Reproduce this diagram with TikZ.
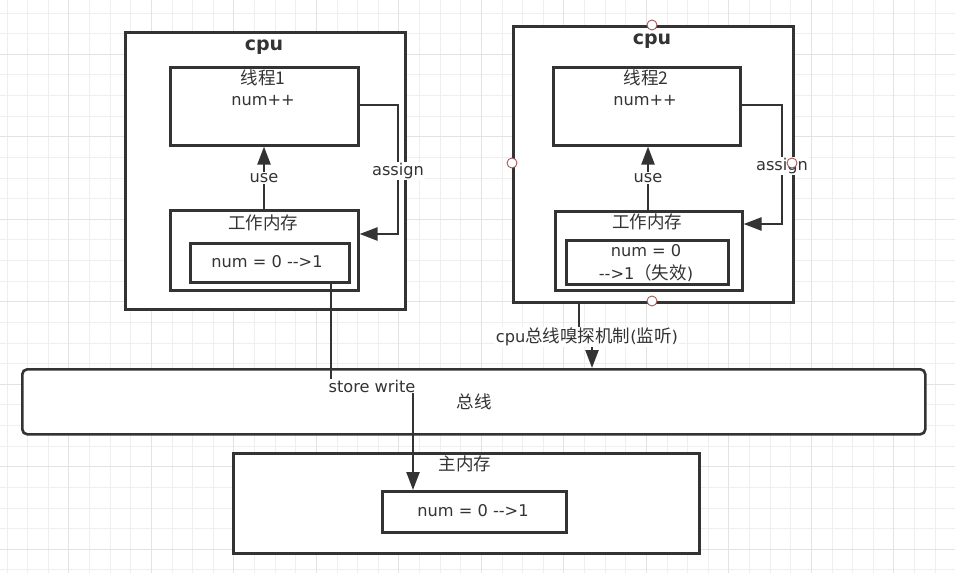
\documentclass[tikz,border=0pt]{standalone}
\usepackage{fontspec}
\setmainfont{DejaVu Sans}
\newfontfamily\cjk{Noto Sans CJK SC}
\newcommand{\zh}[1]{{\cjk\fontsize{17.5}{20}\selectfont #1}}
\usetikzlibrary{arrows.meta}
\definecolor{ink}{HTML}{333333}
\definecolor{gridminor}{HTML}{EFEFEF}
\definecolor{gridmajor}{HTML}{E3E3E3}
\definecolor{handle}{HTML}{A05A5A}
\begin{document}
\begin{tikzpicture}[x=1pt,y=-1pt,
 box/.style={draw=ink,line width=2.6pt,fill=white,anchor=north west,inner sep=0pt},
 conn/.style={draw=ink,line width=2.4pt},
 arr/.style={conn,-{Triangle[length=18pt,width=13pt]}},
 lbl/.style={text=ink,font=\fontsize{16.2}{19}\selectfont,inner sep=1pt},
 lblw/.style={lbl,fill=white},
 cn/.style={text=ink,font=\fontsize{17.5}{20}\selectfont\cjk,inner sep=0pt},
 cpulabel/.style={text=ink,font=\fontsize{19}{22}\selectfont\bfseries,inner sep=0pt},
 hdl/.style={draw=handle,fill=white,line width=0.9pt,circle,minimum size=10pt,inner sep=0pt}]
\useasboundingbox (0,0) rectangle (955,573);
\fill[white] (0,0) rectangle (955,573);
% grid
\foreach \k in {0,...,46} \draw[gridminor,line width=1pt] ({7+\k*20.625},0) -- ({7+\k*20.625},573);
\foreach \k in {0,...,27} \draw[gridminor,line width=1pt] (0,{13+\k*20.625}) -- (955,{13+\k*20.625});
\foreach \k in {0,...,10} \draw[gridmajor,line width=1pt] ({68.9+\k*82.5},0) -- ({68.9+\k*82.5},573);
\foreach \k in {0,...,6} \draw[gridmajor,line width=1pt] (0,{54.25+\k*82.5}) -- (955,{54.25+\k*82.5});

% CPU 1
\node[box,minimum width=280pt,minimum height=277pt] (cpu1) at (124,31) {};
\node[box,minimum width=188pt,minimum height=78pt] (th1) at (169,66) {};
\node[box,minimum width=188pt,minimum height=80pt] (wm1) at (169,209) {};
\node[box,minimum width=159pt,minimum height=39pt] (in1) at (189,242) {};

% CPU 2
\node[box,minimum width=280pt,minimum height=276pt] (cpu2) at (512,25) {};
\node[box,minimum width=187pt,minimum height=78pt] (th2) at (552,66) {};
\node[box,minimum width=187pt,minimum height=79pt] (wm2) at (554,210) {};
\node[box,minimum width=162pt,minimum height=44pt] (in2) at (565,239) {};

% bus and main memory
\node[box,rounded corners=5pt,minimum width=903pt,minimum height=65pt] (bus) at (21,368) {};
\node[box,minimum width=466pt,minimum height=100pt] (mem) at (232,452) {};
\node[box,minimum width=184pt,minimum height=41pt] (memin) at (381,490) {};

% texts cpu1
\node[cpulabel] (c1t) at (264,47) {cpu};
\node[cn] (t1a) at (263,78) {线程1};
\node[lbl] (t1b) at (263,101) {num++};
\node[cn] (w1t) at (263,223) {工作内存};
\node[lbl] (v1) at (267,262) {num = 0 -{}-{}>1};

% texts cpu2
\node[cpulabel] (c2t) at (652,41) {cpu};
\node[cn] (t2a) at (646,78) {线程2};
\node[lbl] (t2b) at (645,101) {num++};
\node[cn] (w2t) at (647,222) {工作内存};
\node[lbl] (v2a) at (646,251) {num = 0};
\node[lbl] (v2b) at (646,273) {-{}-{}>1\zh{（失效}) };

% bus / memory texts
\node[cn] (busl) at (474,402) {总线};
\node[cn] (meml) at (465,464) {主内存};
\node[lbl] (memv) at (473,511) {num = 0 -{}-{}>1};

% connector coordinates
\coordinate (u1) at (264,178);
\coordinate (a1t) at (398,105);
\coordinate (a1b) at (398,234);
\coordinate (u2) at (648,178);
\coordinate (a2t) at (782,105);
\coordinate (a2b) at (782,224);
\coordinate (sw1) at (331,386);
\coordinate (sw2) at (413,386);
\coordinate (sn1) at (579,337);
\coordinate (sn2) at (592,337);

% connectors
\draw[arr] (wm1.north -| u1) -- (th1.south -| u1);
\draw[arr] (th1.east |- a1t) -- (a1t) -- (a1b) -- (wm1.east |- a1b);
\draw[arr] (wm2.north -| u2) -- (th2.south -| u2);
\draw[arr] (th2.east |- a2t) -- (a2t) -- (a2b) -- (wm2.east |- a2b);
\draw[arr] (in1.south -| sw1) -- (sw1) -- (sw2) -- (memin.north -| sw2);
\draw[arr] (cpu2.south -| sn1) -- (sn1) -- (sn2) -- (bus.north -| sn2);

% connector labels
\node[lblw] (use1) at (u1) {use};
\node[lblw] (as1) at (398,171) {assign};
\node[lblw] (use2) at (u2) {use};
\node[lblw] (as2) at (782,166) {assign};
\node[lblw] (swl) at (372,386) {store write};
\node[lblw] (snl) at (587,337) {cpu\zh{总线嗅探机制}(\zh{监听})};

% selection handles
\node[hdl] (h1) at (652,25) {};
\node[hdl] (h2) at (512,163) {};
\node[hdl] (h3) at (792,163) {};
\node[hdl] (h4) at (652,301) {};
\end{tikzpicture}
\end{document}
